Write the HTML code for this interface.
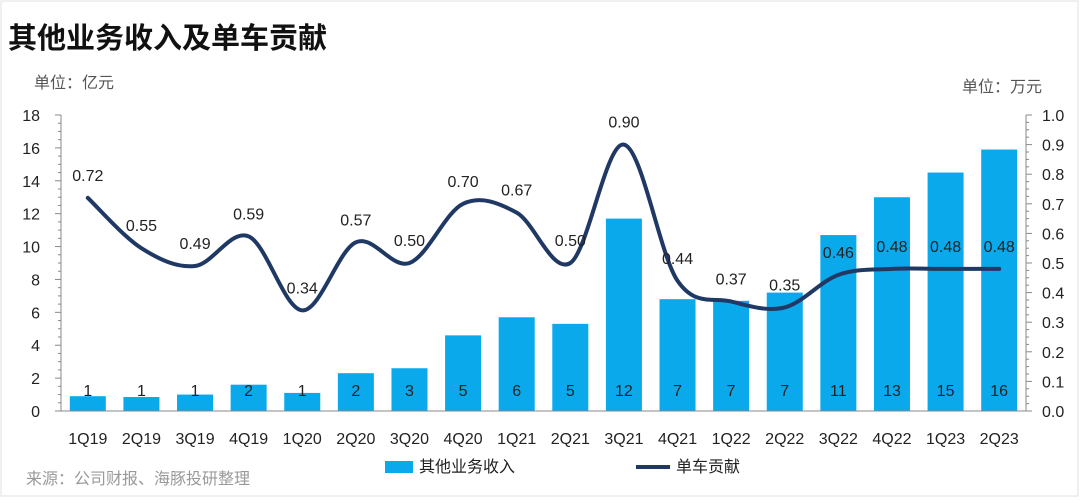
<!DOCTYPE html>
<html><head><meta charset="utf-8">
<style>
body{margin:0;background:#fff;font-family:"Liberation Sans","Noto Sans CJK SC",sans-serif;}
svg text{font-family:"Liberation Sans","Noto Sans CJK SC",sans-serif;}
</style></head>
<body>
<svg id="chart" width="1080" height="498" xmlns="http://www.w3.org/2000/svg">
<rect x="0" y="0" width="1080" height="498" fill="#fff"/>
<rect x="1" y="1" width="1077" height="495" fill="none" stroke="#e0e0e0"/>
<text x="8" y="48" font-size="29" font-weight="bold" fill="#111">其他业务收入及单车贡献</text>
<text x="34" y="88" font-size="16" fill="#555">单位：亿元</text>
<text x="962" y="92" font-size="16" fill="#555">单位：万元</text>
<g id="plot"></g>
<g>
<rect x="385" y="461" width="28" height="12" fill="#0aa9ec"/>
<text x="419" y="472" font-size="16" fill="#222">其他业务收入</text>
<line x1="636" y1="467" x2="670" y2="467" stroke="#1f3864" stroke-width="4"/>
<text x="676" y="472" font-size="16" fill="#222">单车贡献</text>
</g>
<text x="26" y="484" font-size="16" fill="#999">来源：公司财报、海豚投研整理</text>
</svg>
<script>
const categories=["1Q19","2Q19","3Q19","4Q19","1Q20","2Q20","3Q20","4Q20","1Q21","2Q21","3Q21","4Q21","1Q22","2Q22","3Q22","4Q22","1Q23","2Q23"];
const revenue=[0.9,0.85,1.0,1.6,1.1,2.3,2.6,4.6,5.7,5.3,11.7,6.8,6.7,7.2,10.7,13.0,14.5,15.9];
const revenueLabels=["1","1","1","2","1","2","3","5","6","5","12","7","7","7","11","13","15","16"];
const contribution=[0.72,0.55,0.49,0.59,0.34,0.57,0.50,0.70,0.67,0.50,0.90,0.44,0.37,0.35,0.46,0.48,0.48,0.48];
const leftTicks=[0,2,4,6,8,10,12,14,16,18];
const rightTicks=[0,0.1,0.2,0.3,0.4,0.5,0.6,0.7,0.8,0.9,1.0];
const NS="http://www.w3.org/2000/svg";
const g=document.getElementById('plot');
const X0=61,X1=1026,Y0=411,Y1=115;
const step=(X1-X0)/categories.length;
const xc=i=>X0+step*(i+0.5);
const yl=v=>Y0-(v/18)*(Y0-Y1);
const yr=v=>Y0-(v/1)*(Y0-Y1);
function mk(t,a,txt){const e=document.createElementNS(NS,t);for(const k in a)e.setAttribute(k,a[k]);if(txt!==undefined)e.textContent=txt;g.appendChild(e);return e;}
// axes
let e=mk('line',{x1:X0,y1:Y1,x2:X0,y2:Y0,stroke:'#888'});

e=mk('line',{x1:X1,y1:Y1,x2:X1,y2:Y0,stroke:'#888'});

for(let v=0;v<=18;v+=0.5){mk('line',{x1:X0-(v%2===0?6:3),y1:yl(v),x2:X0,y2:yl(v),stroke:'#888'});}
for(let v=0;v<=1.0001;v+=0.025){mk('line',{x1:X1,y1:yr(v),x2:X1+(Math.abs(v*10-Math.round(v*10))<1e-6?6:3),y2:yr(v),stroke:'#888'});}
leftTicks.forEach(v=>{const t=mk('text',{x:40,y:yl(v)+6,'font-size':16,'text-anchor':'end',fill:'#222'},String(v));
});
rightTicks.forEach(v=>{const t=mk('text',{x:1042,y:yr(v)+6,'font-size':16,fill:'#222'},v.toFixed(1));
});
// bars
const bw=36;
revenue.forEach((v,i)=>{
const r=mk('rect',{x:xc(i)-bw/2,y:yl(v),width:bw,height:Y0-yl(v),fill:'#0aa9ec'});

const t=mk('text',{x:xc(i),y:396,'font-size':16,'text-anchor':'middle',fill:'#222'},revenueLabels[i]);

const c=mk('text',{x:xc(i),y:444,'font-size':16,'text-anchor':'middle',fill:'#222'},categories[i]);

});
mk('line',{x1:X0,y1:Y0,x2:X1,y2:Y0,stroke:'#888'});
// smooth line
const pts=contribution.map((v,i)=>[xc(i),yr(v)]);
let d='M'+pts[0][0]+','+pts[0][1];
for(let i=0;i<pts.length-1;i++){
const p0=pts[Math.max(0,i-1)],p1=pts[i],p2=pts[i+1],p3=pts[Math.min(pts.length-1,i+2)];
const k=1/6;
d+=' C'+(p1[0]+(p2[0]-p0[0])*k)+','+(p1[1]+(p2[1]-p0[1])*k)+' '+(p2[0]-(p3[0]-p1[0])*k)+','+(p2[1]-(p3[1]-p1[1])*k)+' '+p2[0]+','+p2[1];
}
const path=mk('path',{d:d,fill:'none',stroke:'#1f3864','stroke-width':4,'stroke-linecap':'round'});

contribution.forEach((v,i)=>{
const t=mk('text',{x:xc(i),y:yr(v)-17,'font-size':16,'text-anchor':'middle',fill:'#222'},v.toFixed(2));

});
</script>
</body></html>
